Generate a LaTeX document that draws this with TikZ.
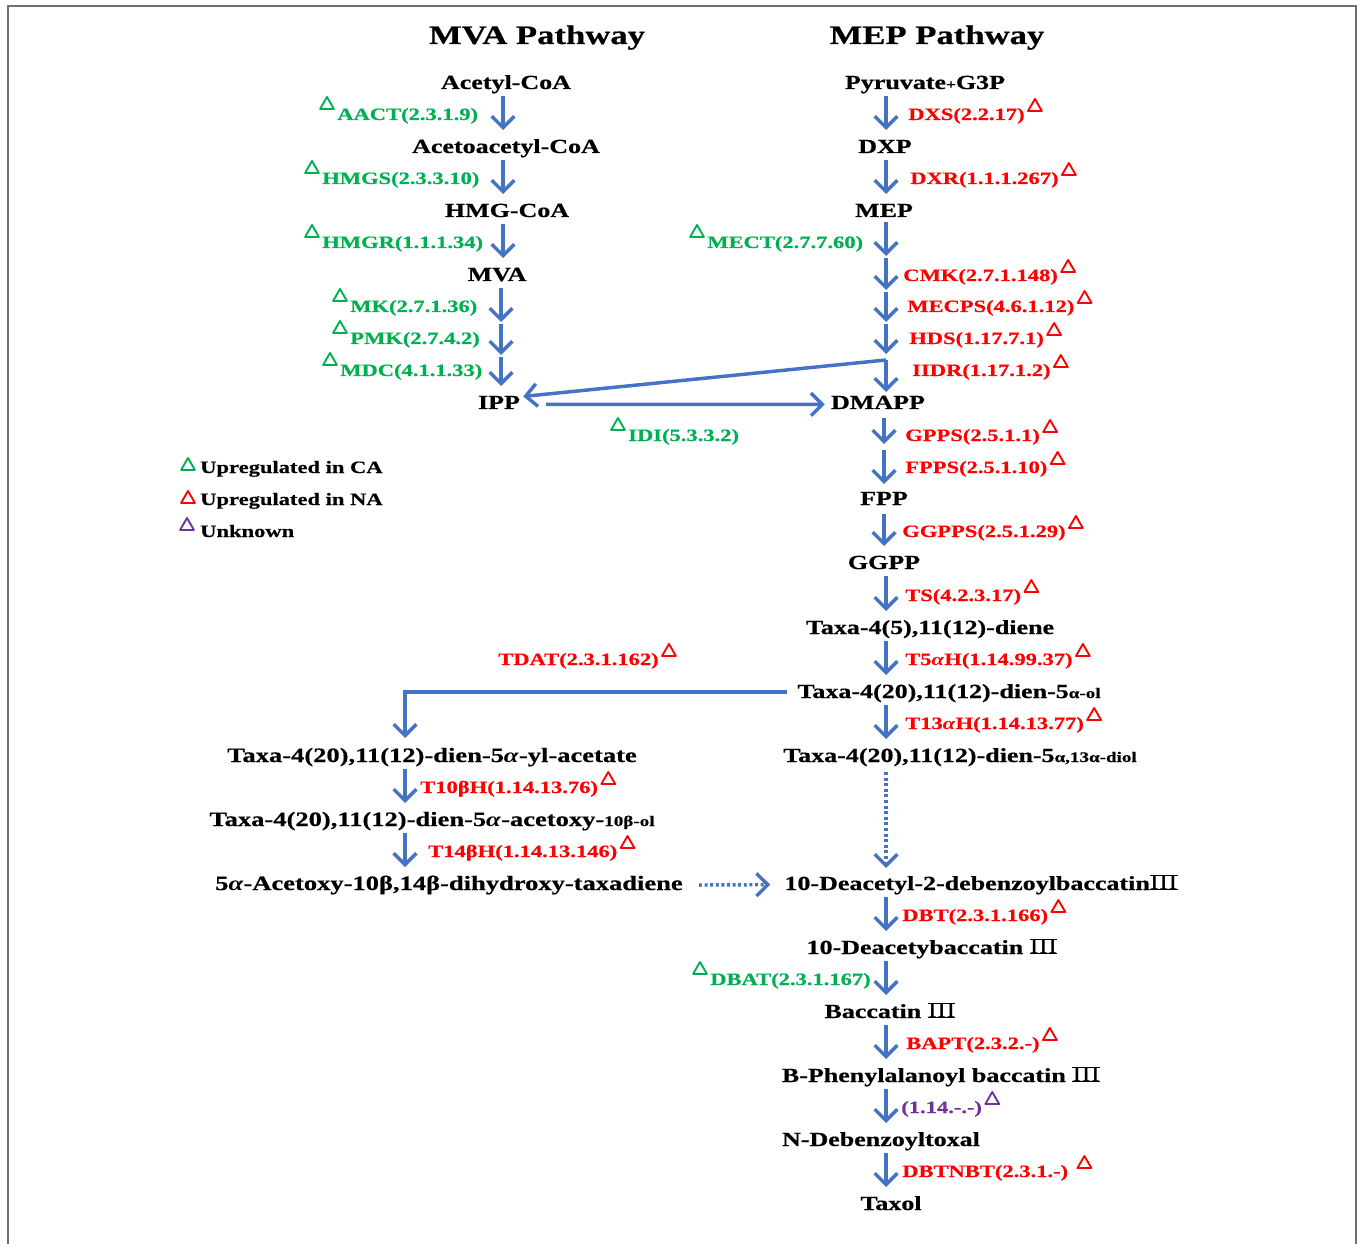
\documentclass[tikz,border=0pt]{standalone}
\usepackage{fontspec}
\setmainfont{Liberation Serif}[FakeStretch=1.3, BoldFeatures={FakeBold=0.6}]
\usetikzlibrary{arrows.meta,shapes.geometric,calc}
\definecolor{cblue}{HTML}{4472C4}
\definecolor{cgreen}{HTML}{00B050}
\definecolor{cred}{HTML}{FF0000}
\definecolor{cpurple}{HTML}{7030A0}
\definecolor{cframe}{HTML}{707070}
\newcommand{\rIII}{\hbox{\vbox{\hrule height 0.7pt\kern-0.3pt\hbox{\fontsize{16}{16}\selectfont\mdseries III}\kern-0.3pt\hrule height 0.7pt}}}
\newcommand{\smt}[1]{{\fontsize{11}{11}\selectfont #1}}
\newcommand{\ia}{\textit{α}}
\tikzset{
  nm/.style={font=\fontsize{15}{15}\selectfont\bfseries, inner sep=0pt, anchor=base},
  ttl/.style={font=\fontsize{20}{20}\selectfont\bfseries, inner sep=0pt, anchor=base},
  enz/.style={font=\fontsize{13}{13}\selectfont\bfseries, inner sep=0pt, anchor=base west},
  leg/.style={font=\fontsize{13}{13}\selectfont\bfseries, inner sep=0pt, anchor=base west},
  ge/.style={enz, text=cgreen},
  re/.style={enz, text=cred},
  pe/.style={enz, text=cpurple},
  tri/.style={regular polygon, regular polygon sides=3, draw=#1, line width=1.4pt,
              line join=round, minimum size=12pt, inner sep=0pt},
  arr/.style={draw=cblue, line width=2.6pt, -{Straight Barb[length=8.5pt,width=17pt]}},
  dotarr/.style={arr, dash pattern=on 2.2pt off 2pt},
}
\newcommand{\stp}[3]{\draw[arr] ($(#2.base -| #1)+(0,7)$) -- ($(#3.base -| #1)+(0,-23)$);}
\newcommand{\gtri}[2]{\node[tri=cgreen] (#1) at ($(#2.base west)+(-10,-15)$) {};}
\newcommand{\rtri}[3][10]{\node[tri=#2] (#3t) at ($(#3.base east)+(#1,-13)$) {};}
\begin{document}
\begin{tikzpicture}[x=0.75pt,y=-0.75pt]
\useasboundingbox (0,0) rectangle (1360,1244);
\draw[draw=cframe, line width=1.6pt] (8,1244) -- (8,6) -- (1356,6) -- (1356,1244);

% titles
\node[ttl] (mvaT) at (537,44) {MVA Pathway};
\node[ttl] (mepT) at (937,44) {MEP Pathway};

% columns
\coordinate (colA) at (503,0);
\coordinate (colB) at (886,0);
\coordinate (colC) at (405,0);

% MVA names
\node[nm] (acetyl) at (506,89) {Acetyl-CoA};
\node[nm] (acetoac) at (506,153) {Acetoacetyl-CoA};
\node[nm] (hmgcoa) at (507,217) {HMG-CoA};
\node[nm] (mva) at (497,281) {MVA};
\node[nm] (ipp) at (499,409) {IPP};

% MEP names
\node[nm] (pyr) at (925,89) {Pyruvate{\fontsize{10}{10}\selectfont +}G3P};
\node[nm] (dxp) at (885,153) {DXP};
\node[nm] (mep) at (884,217) {MEP};
\node[nm] (dmapp) at (878,409) {DMAPP};
\node[nm] (fpp) at (884,505) {FPP};
\node[nm] (ggpp) at (884,569) {GGPP};
\node[nm] (diene) at (930,634) {Taxa-4(5),11(12)-diene};
\node[nm] (dienol) at (949,698) {Taxa-4(20),11(12)-dien-5\smt{α-ol}};
\node[nm] (diol) at (960,762) {Taxa-4(20),11(12)-dien-5\smt{α,13α-diol}};
\node[nm, font=\fontsize{15.3}{15}\selectfont\bfseries] (ylac) at (432,762) {Taxa-4(20),11(12)-dien-5\ia-yl-acetate};
\node[nm, font=\fontsize{15.3}{15}\selectfont\bfseries] (acetoxy) at (432,826) {Taxa-4(20),11(12)-dien-5\ia-acetoxy-\smt{10β-ol}};
\node[nm, font=\fontsize{15.3}{15}\selectfont\bfseries] (dihydroxy) at (449,890) {5\ia-Acetoxy-10β,14β-dihydroxy-taxadiene};
\node[nm] (dedb) at (981,890) {10-Deacetyl-2-debenzoylbaccatin\rIII};
\node[nm] (deac) at (932,954) {10-Deacetybaccatin \rIII};
\node[nm] (bacc) at (890,1018) {Baccatin \rIII};
\node[nm] (phenyl) at (941,1082) {B-Phenylalanoyl baccatin \rIII};
\node[nm] (ndeb) at (881,1146) {N-Debenzoyltoxal};
\node[nm] (taxol) at (891,1210) {Taxol};

% enzyme labels, green
\node[ge] (aact) at (337,120) {AACT(2.3.1.9)};
\node[ge] (hmgs) at (322,184) {HMGS(2.3.3.10)};
\node[ge] (hmgr) at (322,248) {HMGR(1.1.1.34)};
\node[ge] (mk) at (350,312) {MK(2.7.1.36)};
\node[ge] (pmk) at (350,344) {PMK(2.7.4.2)};
\node[ge] (mdc) at (340,376) {MDC(4.1.1.33)};
\node[ge] (mect) at (707,248) {MECT(2.7.7.60)};
\node[ge] (idi) at (628,441) {IDI(5.3.3.2)};
\node[ge] (dbat) at (710,985) {DBAT(2.3.1.167)};
\gtri{aactt}{aact}
\gtri{hmgst}{hmgs}
\gtri{hmgrt}{hmgr}
\gtri{mkt}{mk}
\gtri{pmkt}{pmk}
\gtri{mdct}{mdc}
\gtri{mectt}{mect}
\gtri{idit}{idi}
\gtri{dbatt}{dbat}

% enzyme labels, red
\node[re] (dxs) at (908,120) {DXS(2.2.17)};
\node[re] (dxr) at (910,184) {DXR(1.1.1.267)};
\node[re] (cmk) at (903,281) {CMK(2.7.1.148)};
\node[re] (mecps) at (907,312) {MECPS(4.6.1.12)};
\node[re] (hds) at (909,344) {HDS(1.17.7.1)};
\node[re] (iidr) at (912,376) {IIDR(1.17.1.2)};
\node[re] (gpps) at (905,441) {GPPS(2.5.1.1)};
\node[re] (fpps) at (905,473) {FPPS(2.5.1.10)};
\node[re] (ggpps) at (902,537) {GGPPS(2.5.1.29)};
\node[re] (ts) at (905,601) {TS(4.2.3.17)};
\node[re] (t5ah) at (905,665) {T5\ia H(1.14.99.37)};
\node[re] (tdat) at (498,665) {TDAT(2.3.1.162)};
\node[re] (t13ah) at (905,729) {T13\ia H(1.14.13.77)};
\node[re] (t10bh) at (420,793) {T10βH(1.14.13.76)};
\node[re] (t14bh) at (428,857) {T14βH(1.14.13.146)};
\node[re] (dbt) at (902,921) {DBT(2.3.1.166)};
\node[re] (bapt) at (906,1049) {BAPT(2.3.2.-)};
\node[re] (dbtnbt) at (902,1177) {DBTNBT(2.3.1.-)};
\node[pe] (unk) at (901,1113) {(1.14.-.-)};
\rtri{cred}{dxs}
\rtri{cred}{dxr}
\rtri{cred}{cmk}
\rtri{cred}{mecps}
\rtri{cred}{hds}
\rtri{cred}{iidr}
\rtri{cred}{gpps}
\rtri{cred}{fpps}
\rtri{cred}{ggpps}
\rtri{cred}{ts}
\rtri{cred}{t5ah}
\rtri{cred}{tdat}
\rtri{cred}{t13ah}
\rtri{cred}{t10bh}
\rtri{cred}{t14bh}
\rtri{cred}{dbt}
\rtri{cred}{bapt}
\rtri[16]{cred}{dbtnbt}
\rtri{cpurple}{unk}

% legend
\node[tri=cgreen] (lg1) at (188,466) {};
\node[tri=cred] (lg2) at (188,499) {};
\node[tri=cpurple] (lg3) at (187,526) {};
\node[leg] (lt1) at (200,473) {Upregulated in CA};
\node[leg] (lt2) at (200,505) {Upregulated in NA};
\node[leg] (lt3) at (200,537) {Unknown};

% helper coordinates
\coordinate (c1) at (501,322);
\coordinate (c2) at (501,355);
\coordinate (d1) at (886,256);
\coordinate (d2) at (886,290);
\coordinate (d3) at (886,322);
\coordinate (d4) at (886,354);
\coordinate (jn) at (886,360);
\coordinate (e1) at (884,446);

% MVA arrows
\stp{colA}{acetyl}{acetoac}
\stp{colA}{acetoac}{hmgcoa}
\stp{colA}{hmgcoa}{mva}
\draw[arr] ($(mva.base -| c1)+(0,7)$) -- (c1);
\draw[arr] ($(c1)+(0,2)$) -- (c2);
\draw[arr] ($(c2)+(0,2)$) -- ($(ipp.base -| c2)+(0,-23)$);

% MEP arrows
\stp{colB}{pyr}{dxp}
\stp{colB}{dxp}{mep}
\draw[arr] ($(mep.base -| d1)+(0,5)$) -- (d1);
\draw[arr] ($(d1)+(0,2)$) -- (d2);
\draw[arr] ($(d2)+(0,2)$) -- (d3);
\draw[arr] ($(d3)+(0,2)$) -- (d4);
\draw[arr] (jn) -- ($(dmapp.base -| jn)+(0,-17)$);
\draw[arr] (jn) -- ($(ipp.east)+(3,-6)$);
\draw[arr] ($(ipp.east)+(26,2)$) -- ($(dmapp.west)+(-6,2)$);
\draw[arr] ($(dmapp.base -| e1)+(0,9)$) -- ($(e1)+(0,-2)$);
\draw[arr] ($(e1)+(0,4)$) -- ($(fpp.base -| e1)+(0,-21)$);
\draw[arr] ($(fpp.base -| e1)+(0,9)$) -- ($(ggpp.base -| e1)+(0,-23)$);
\stp{colB}{ggpp}{diene}
\stp{colB}{diene}{dienol}
\stp{colB}{dienol}{diol}
\draw[arr] ($(dienol.west)+(-10,-1)$) -| ($(ylac.base -| colC)+(0,-24)$);
\draw[dotarr] ($(diol.base -| colB)+(0,10)$) -- ($(dedb.base -| colB)+(0,-22)$);
\stp{colC}{ylac}{acetoxy}
\stp{colC}{acetoxy}{dihydroxy}
\draw[dotarr] ($(dihydroxy.east)+(16,0)$) -- ($(dedb.west)+(-14,0)$);
\stp{colB}{dedb}{deac}
\stp{colB}{deac}{bacc}
\stp{colB}{bacc}{phenyl}
\stp{colB}{phenyl}{ndeb}
\stp{colB}{ndeb}{taxol}
\end{tikzpicture}
\end{document}
